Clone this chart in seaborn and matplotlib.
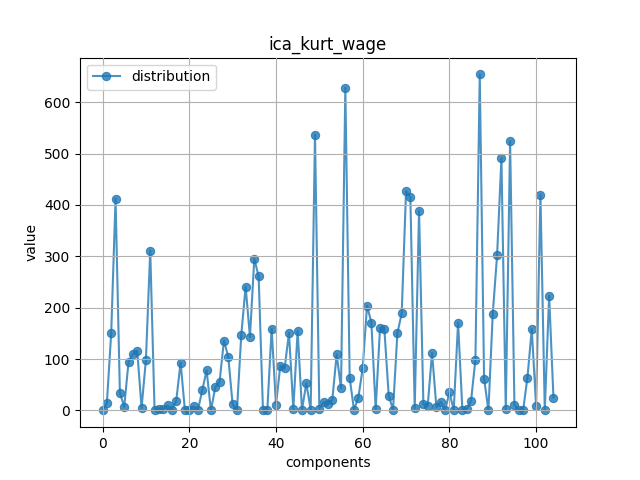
import matplotlib
matplotlib.use("Agg")
import matplotlib.pyplot as plt
import seaborn as sns
import numpy as np
import pandas as pd

title = "ica_kurt_wage"
series_name = "distribution"
x_label = "components"
y_label = "value"

values = [
    0, 14, 151, 412, 34, 7, 95, 110, 116, 5,
    98, 311, 0, 3, 2, 10, 0, 19, 93, 0,
    1, 8, 1, 39, 78, 0, 45, 56, 136, 104,
    12, 0, 147, 241, 143, 295, 261, 0, 0, 159,
    11, 87, 82, 151, 3, 155, 1, 53, 1, 537,
    3, 16, 12, 21, 109, 43, 628, 63, 1, 25,
    82, 204, 171, 3, 161, 158, 29, 1, 150, 189,
    427, 415, 4, 388, 12, 9, 112, 6, 17, 0,
    35, 1, 171, 0, 3, 19, 99, 654, 62, 0,
    188, 302, 491, 2, 524, 11, 0, 0, 64, 158,
    8, 420, 0, 223, 25,
]
components = list(range(len(values)))

df = pd.DataFrame({x_label: components, y_label: values})

fig, ax = plt.subplots(figsize=(6.4, 4.8), dpi=100)
sns.lineplot(data=df, x=x_label, y=y_label, ax=ax, marker="o",
             color="#1f77b4", alpha=0.8, linewidth=1.5, markersize=6,
             markeredgecolor="#1f77b4", label=series_name)
ax.grid(True, color="#b0b0b0", linewidth=0.8)
ax.set_axisbelow(False)
ax.set_title(title)
ax.set_xlabel(x_label)
ax.set_ylabel(y_label)
ax.legend(loc="upper left")
fig.savefig("out.png", dpi=100)
